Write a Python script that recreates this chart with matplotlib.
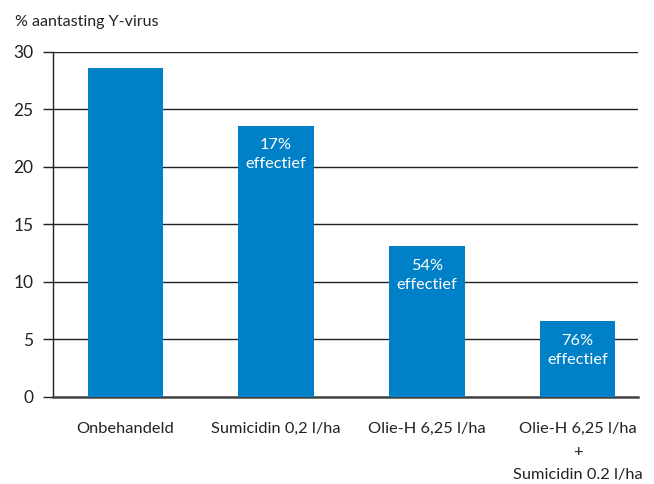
import matplotlib
matplotlib.use("Agg")
import matplotlib.pyplot as plt

categories = ["Onbehandeld", "Sumicidin 0,2 l/ha", "Olie-H 6,25 l/ha",
              "Olie-H 6,25 l/ha\n+\nSumicidin 0.2 l/ha"]
values = [28.6, 23.6, 13.1, 6.6]
labels = ["", "17%\neffectief", "54%\neffectief", "76%\neffectief"]
yticks = [0, 5, 10, 15, 20, 25, 30]

plt.rcParams['font.family'] = ['Lato', 'DejaVu Sans']
color = "#0080C6"
text_color = "#222222"

fig = plt.figure(figsize=(6.54, 4.84), dpi=100)
ax = fig.add_axes([0.081, 0.1798, 0.8945, 0.7128])

x = list(range(len(categories)))
ax.bar(x, values, width=0.5, color=color, zorder=3)
ax.set_xlim(-0.48, 3.40)
ax.set_ylim(0, 30)
ax.set_yticks(yticks)
ax.yaxis.grid(True, color="#222222", linewidth=1.0, zorder=0)
ax.set_axisbelow(True)

for s in ["top", "right"]:
    ax.spines[s].set_visible(False)
ax.spines["left"].set_color("#222222")
ax.spines["left"].set_linewidth(1.0)
ax.spines["bottom"].set_color("#444444")
ax.spines["bottom"].set_linewidth(1.8)

ax.tick_params(axis="y", length=7, width=1.0, color="#222222", pad=7,
               labelsize=12.5, labelcolor=text_color)
ax.tick_params(axis="x", length=0, pad=18, labelsize=11.8, labelcolor=text_color)
ax.set_xticks(x)
ax.set_xticklabels(categories, linespacing=1.8)

for xi, v, lab in zip(x, values, labels):
    if lab:
        ax.annotate(lab, xy=(xi, v), xytext=(0, -9), textcoords="offset points",
                    ha="center", va="top", color="white", fontsize=11.8,
                    linespacing=1.45)

fig.text(0.023, 0.955, "% aantasting Y-virus", ha="left", va="center",
         fontsize=11.5, color=text_color)

fig.savefig("out.png", dpi=100)
